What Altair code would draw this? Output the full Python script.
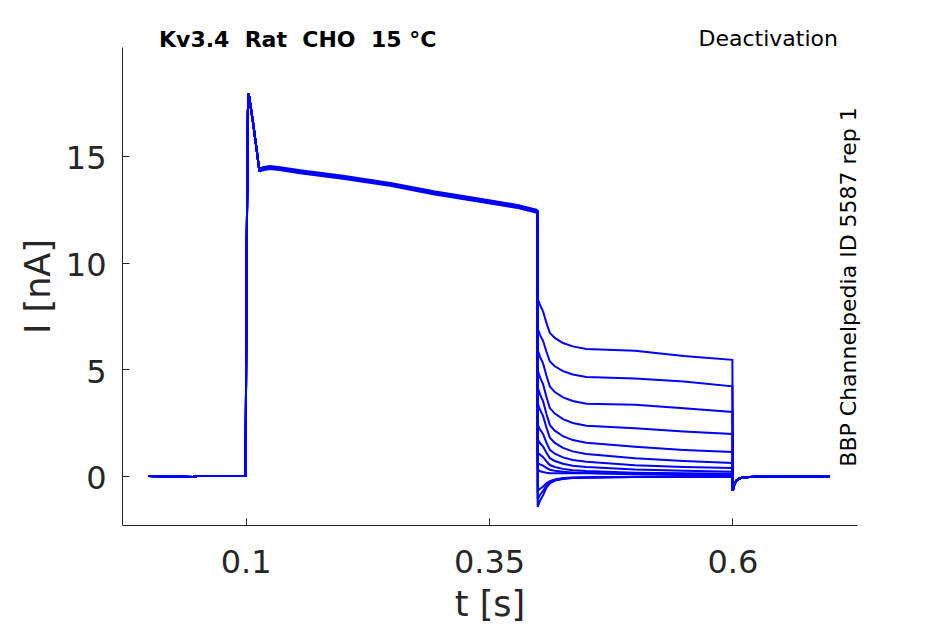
import altair as alt
import pandas as pd

# ---- data ----
# shared part of every sweep (holding, activation step)
pre_t = [0.0, 0.046, 0.05, 0.0998, 0.1003, 0.1008, 0.1012, 0.1018, 0.1023, 0.1027,
         0.1035, 0.1055, 0.1078, 0.1095, 0.1113, 0.114, 0.118, 0.125, 0.135, 0.156,
         0.2, 0.25, 0.293, 0.35, 0.38, 0.3995]
pre_i = [0.0, -0.05, 0.0, 0.0, 3.0, 8.5, 11.0, 14.5, 17.0, 17.93,
         17.8, 17.2, 16.5, 15.9, 15.3, 14.33, 14.4, 14.45, 14.4, 14.25,
         14.0, 13.65, 13.27, 12.85, 12.62, 12.4]

# tail currents (deactivation step), one list per sweep
tail_t = [0.4, 0.4025, 0.4056, 0.409, 0.4125, 0.4176, 0.426, 0.436, 0.45, 0.5, 0.55, 0.6]
tail_1 = [8.3, 8.0, 7.7, 7.17, 6.7, 6.47, 6.23, 6.07, 5.95, 5.87, 5.62, 5.44]
tail_2 = [6.9, 6.6, 6.32, 5.82, 5.36, 5.14, 4.91, 4.75, 4.64, 4.57, 4.42, 4.2]
tail_3 = [5.9, 5.57, 5.26, 4.69, 4.19, 3.93, 3.68, 3.51, 3.38, 3.33, 3.17, 3.0]
tail_4 = [4.95, 4.61, 4.29, 3.7, 3.18, 2.92, 2.66, 2.48, 2.35, 2.23, 2.08, 1.97]
tail_5 = [4.15, 3.81, 3.49, 2.9, 2.38, 2.12, 1.86, 1.68, 1.55, 1.37, 1.22, 1.12]
tail_6 = [3.4, 3.09, 2.8, 2.26, 1.79, 1.55, 1.31, 1.15, 1.03, 0.83, 0.7, 0.61]
tail_7 = [2.4, 2.17, 1.96, 1.56, 1.22, 1.04, 0.87, 0.75, 0.66, 0.5, 0.42, 0.37]
tail_8 = [1.7, 1.53, 1.37, 1.09, 0.83, 0.7, 0.57, 0.48, 0.42, 0.3, 0.24, 0.2]
tail_9 = [1.1, 0.99, 0.88, 0.68, 0.51, 0.42, 0.33, 0.27, 0.23, 0.15, 0.12, 0.1]
tail_10 = [0.6, 0.54, 0.48, 0.38, 0.29, 0.24, 0.2, 0.16, 0.14, 0.08, 0.05, 0.04]
tail_11 = [0.3, 0.22, 0.18, 0.15, 0.13, 0.13, 0.13, 0.12, 0.12, 0.1, 0.08, 0.06]
tail_12 = [-1.45, -1.15, -0.9, -0.55, -0.35, -0.22, -0.14, -0.1, -0.08, -0.05, -0.04, -0.03]
tail_13 = [-1.1, -0.88, -0.7, -0.45, -0.3, -0.2, -0.12, -0.09, -0.07, -0.05, -0.04, -0.03]
tail_14 = [-0.7, -0.6, -0.5, -0.35, -0.25, -0.17, -0.1, -0.07, -0.06, -0.04, -0.03, -0.03]
tails = [tail_1, tail_2, tail_3, tail_4, tail_5, tail_6, tail_7,
         tail_8, tail_9, tail_10, tail_11, tail_12, tail_13, tail_14]

# return to holding potential (shared)
post_t = [0.6005, 0.602, 0.604, 0.607, 0.612, 0.63, 0.7]
post_i = [-0.7, -0.4, -0.22, -0.12, -0.06, -0.03, -0.03]

x_ticks = [0.1, 0.35, 0.6]
y_ticks = [0, 5, 10, 15]

title_left = "Kv3.4\u00a0\u00a0Rat\u00a0\u00a0CHO\u00a0\u00a015\u00a0°C"
title_right = "Deactivation"
side_note = "BBP Channelpedia ID 5587 rep 1"

# ---- build tables ----
rows = []
for k, tail in enumerate(tails):
    for t, i in zip(pre_t, pre_i):
        rows.append({"trace": k, "t": t, "I": i})
    for t, i in zip(tail_t, tail):
        rows.append({"trace": k, "t": t, "I": i})
    for t, i in zip(post_t, post_i):
        rows.append({"trace": k, "t": t, "I": i})
df = pd.DataFrame(rows)
df_plateau = pd.DataFrame({"t": pre_t, "I": pre_i})

BLUE = "#0000ff"
AX = "#262626"
FONT = "DejaVu Sans"
W, H = 735, 478

xscale = alt.Scale(domain=[-0.027, 0.728], nice=False, zero=False)
yscale = alt.Scale(domain=[-2.3, 20.1], nice=False, zero=False)

main_x = alt.Axis(values=x_ticks, format=".2~f", grid=False, ticks=False, tickSize=0,
                  domainColor=AX, domainWidth=1, labelColor=AX, labelFont=FONT,
                  labelFontSize=32, labelBaseline="alphabetic", labelPadding=47,
                  labelFlush=False, title="t [s]", titleFont=FONT, titleFontSize=35,
                  titleFontWeight="normal", titleColor=AX, titleX=W / 2, titleY=90,
                  titleBaseline="alphabetic", titleAlign="center", orient="bottom")
main_y = alt.Axis(values=y_ticks, format="d", grid=False, ticks=False, tickSize=0,
                  domainColor=AX, domainWidth=1, labelColor=AX, labelFont=FONT,
                  labelFontSize=32, labelBaseline="middle", labelOffset=3,
                  labelPadding=16, labelFlush=False, title="I [nA]", titleFont=FONT,
                  titleFontSize=35, titleFontWeight="normal", titleColor=AX,
                  titleAngle=270, titleX=-84, titleY=H / 2, titleBaseline="middle",
                  titleAlign="center", orient="left")
tick_x = alt.Axis(values=x_ticks, grid=False, domain=False, labels=False, ticks=True,
                  tickSize=7, tickColor=AX, tickWidth=1, offset=-7, title="",
                  orient="bottom")
tick_y = alt.Axis(values=y_ticks, grid=False, domain=False, labels=False, ticks=True,
                  tickSize=7, tickColor=AX, tickWidth=1, offset=-7, title="",
                  orient="left")

traces = alt.Chart(df).mark_line(color=BLUE, strokeWidth=2, clip=True).encode(
    x=alt.X("t:Q", scale=xscale, axis=main_x),
    y=alt.Y("I:Q", scale=yscale, axis=main_y),
    detail="trace:N",
)

band = alt.Chart(df_plateau).transform_filter("datum.t >= 0.113").mark_line(
    color=BLUE, strokeWidth=5, clip=True
).encode(
    x=alt.X("t:Q", scale=xscale, axis=tick_x),
    y=alt.Y("I:Q", scale=yscale, axis=tick_y),
)

txt_df = pd.DataFrame({"a": [title_left], "b": [title_right], "c": [side_note]})
t_left = alt.Chart(txt_df).mark_text(
    font=FONT, fontSize=22, fontWeight="bold", color="#000000",
    align="left", baseline="alphabetic"
).encode(text="a:N", x=alt.value(37), y=alt.value(0))
t_right = alt.Chart(txt_df).mark_text(
    font=FONT, fontSize=22, color="#000000", align="right", baseline="alphabetic"
).encode(text="b:N", x=alt.value(716), y=alt.value(-1))
t_side = alt.Chart(txt_df).mark_text(
    font=FONT, fontSize=22, color="#000000", align="center", baseline="alphabetic",
    angle=270
).encode(text="c:N", x=alt.value(734), y=alt.value(240))

chart = alt.layer(traces, band, t_left, t_right, t_side).resolve_axis(
    x="independent", y="independent"
).properties(
    width=W, height=H,
    padding={"left": 114, "top": 39, "right": 70, "bottom": 98},
    autosize=alt.AutoSizeParams(type="none"),
).configure_view(stroke=None)

chart.save("out.html", embed_options={"renderer": "svg", "actions": False})
